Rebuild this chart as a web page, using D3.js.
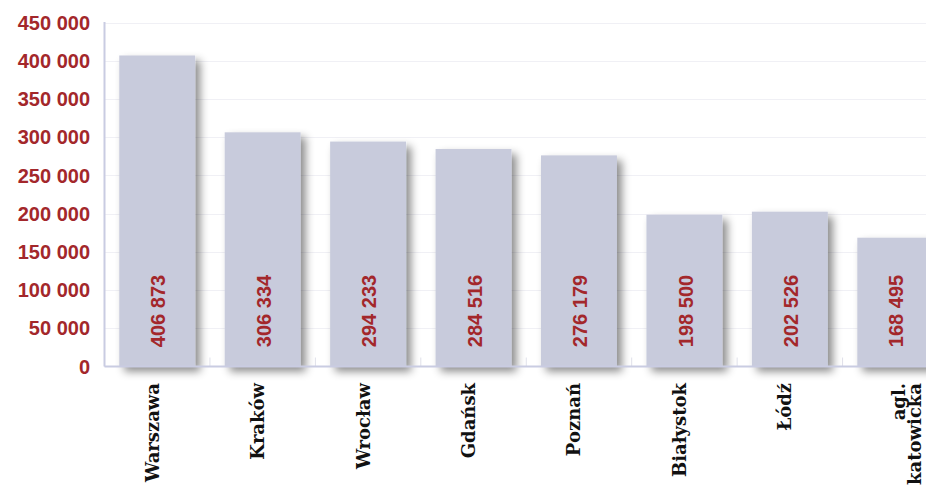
<!DOCTYPE html>
<html>
<head>
<meta charset="utf-8">
<script src="https://cdn.jsdelivr.net/npm/d3@7"></script>
<style>
  html, body { margin: 0; padding: 0; background: #fff; }
  svg { display: block; }
</style>
</head>
<body>
<svg id="chart" width="926" height="489"></svg>
<script>
// Cities (label lines) and their values
const categories = ["Warszawa", "Kraków", "Wrocław", "Gdańsk", "Poznań", "Białystok", "Łódź", "agl. katowicka"];
const labelLines = [["Warszawa"], ["Kraków"], ["Wrocław"], ["Gdańsk"], ["Poznań"], ["Białystok"], ["Łódź"], ["agl.", "katowicka"]];
const values = [406873, 306334, 294233, 284516, 276179, 198500, 202526, 168495];
const yTicks = [0, 50000, 100000, 150000, 200000, 250000, 300000, 350000, 400000, 450000];

const RED = "#a3272b";
const BAR = "#c8cbdc";
const AXIS = "#c9cce2";

const svg = d3.select("#chart");
const locale = d3.formatLocale({ decimal: ",", thousands: " ", grouping: [3], currency: ["", " zł"] });
const fmt = locale.format(",d");

const y = d3.scaleLinear().domain([0, 450000]).range([366.5, 22.5]);
const x = d3.scaleBand().domain(categories).range([104.5, 948]).paddingInner(0.28).paddingOuter(0.14);

// soft drop shadow for the bars
const defs = svg.append("defs");
const f = defs.append("filter").attr("id", "shadow")
  .attr("x", "-20%").attr("y", "-10%").attr("width", "150%").attr("height", "130%");
f.append("feDropShadow").attr("dx", 5).attr("dy", 5).attr("stdDeviation", 4)
  .attr("flood-color", "#000").attr("flood-opacity", 0.45);

// faint horizontal gridlines
svg.append("g").selectAll("line").data(yTicks.slice(1)).join("line")
  .attr("x1", 104.5).attr("x2", 926)
  .attr("y1", d => Math.round(y(d)) + 0.5).attr("y2", d => Math.round(y(d)) + 0.5)
  .attr("stroke", "#f0f0f5").attr("stroke-width", 1);

// small ticks between categories
const step = x.step();
svg.append("g").selectAll("line").data(d3.range(categories.length + 1)).join("line")
  .attr("x1", i => x.range()[0] + i * step).attr("x2", i => x.range()[0] + i * step)
  .attr("y1", y(0) - 9).attr("y2", y(0))
  .attr("stroke", "#e0e1ea").attr("stroke-width", 1);

// bars
svg.append("g").selectAll("rect").data(values).join("rect")
  .attr("x", (d, i) => x(categories[i]))
  .attr("width", x.bandwidth())
  .attr("y", d => y(d))
  .attr("height", d => y(0) - y(d))
  .attr("fill", BAR)
  .attr("filter", "url(#shadow)");

// axes lines
svg.append("line").attr("x1", 104.5).attr("x2", 104.5).attr("y1", 22).attr("y2", y(0))
  .attr("stroke", AXIS).attr("stroke-width", 2);
svg.append("line").attr("x1", 104.5).attr("x2", 926).attr("y1", y(0)).attr("y2", y(0))
  .attr("stroke", AXIS).attr("stroke-width", 2);

// y tick labels
svg.append("g").selectAll("text").data(yTicks).join("text")
  .attr("x", 90).attr("y", d => y(d)).attr("dy", "0.36em")
  .attr("text-anchor", "end")
  .attr("font-family", "'Liberation Sans', Arial, sans-serif")
  .attr("font-weight", "bold").attr("font-size", 20)
  .attr("fill", RED)
  .text(d => fmt(d));

// value labels inside bars
svg.append("g").selectAll("text").data(values).join("text")
  .attr("transform", (d, i) => `translate(${x(categories[i]) + x.bandwidth() / 2 + 1},311) rotate(-90)`)
  .attr("text-anchor", "middle").attr("dy", "0.36em")
  .attr("font-family", "'Liberation Sans', Arial, sans-serif")
  .attr("font-weight", "bold").attr("font-size", 20)
  .attr("fill", RED)
  .text(d => fmt(d));

// category labels below the axis
const cat = svg.append("g").selectAll("text").data(labelLines).join("text")
  .attr("transform", (d, i) => {
    const cx = x(categories[i]) + x.bandwidth() / 2 + (d.length > 1 ? 3 : -5);
    return `translate(${cx},383) rotate(-90)`;
  })
  .attr("text-anchor", "end")
  .attr("font-family", "'DejaVu Serif', serif")
  .attr("font-weight", "bold").attr("font-size", 18)
  .attr("fill", "#111");
cat.selectAll("tspan").data(d => d).join("tspan")
  .attr("x", 0)
  .attr("dy", (d, j) => j === 0 ? "0.36em" : "0.92em")
  .text(d => d);
</script>
</body>
</html>
